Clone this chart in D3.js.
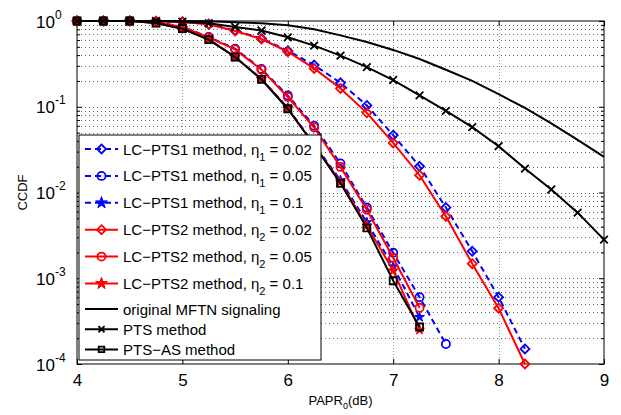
<!DOCTYPE html>
<html>
<head>
<meta charset="utf-8">
<script src="https://cdn.jsdelivr.net/npm/d3@7"></script>
<style>
  body { margin: 0; background: #fff; }
  svg { display: block; font-family: "Liberation Sans", Arial, sans-serif; }
</style>
</head>
<body>
<script>
// PAPR0 values (dB) for each curve length
var x_to_725 = [4, 4.25, 4.5, 4.75, 5, 5.25, 5.5, 5.75, 6, 6.25, 6.5, 6.75, 7, 7.25];
var x_to_75 = [4, 4.25, 4.5, 4.75, 5, 5.25, 5.5, 5.75, 6, 6.25, 6.5, 6.75, 7, 7.25, 7.5];
var x_to_825 = [4, 4.25, 4.5, 4.75, 5, 5.25, 5.5, 5.75, 6, 6.25, 6.5, 6.75, 7, 7.25, 7.5, 7.75, 8, 8.25];
var x_to_9 = [4, 4.25, 4.5, 4.75, 5, 5.25, 5.5, 5.75, 6, 6.25, 6.5, 6.75, 7, 7.25, 7.5, 7.75, 8, 8.25, 8.5, 8.75, 9];

// CCDF values
var lcpts1_002 = [1, 1, 1, 0.99, 0.98, 0.92, 0.775, 0.625, 0.45, 0.306, 0.19, 0.1035, 0.0466, 0.0202, 0.00667, 0.00206, 0.000602, 0.00015];
var lcpts1_005 = [1, 1, 1, 0.97, 0.855, 0.65, 0.475, 0.276, 0.135, 0.06, 0.0218, 0.00667, 0.00198, 0.000602, 0.000171];
var lcpts1_01 = [1, 1, 1, 0.95, 0.815, 0.61, 0.382, 0.211, 0.097, 0.0365, 0.0139, 0.00449, 0.00137, 0.000352];
var lcpts2_002 = [1, 1, 1, 0.99, 0.975, 0.915, 0.764, 0.616, 0.438, 0.28, 0.1636, 0.0849, 0.0379, 0.0159, 0.00527, 0.00148, 0.000448, 0.0001];
var lcpts2_005 = [1, 1, 1, 0.97, 0.85, 0.642, 0.467, 0.271, 0.13, 0.0573, 0.0199, 0.0063, 0.00173, 0.000452];
var lcpts2_01 = [1, 1, 1, 0.95, 0.813, 0.607, 0.38, 0.209, 0.095, 0.0358, 0.0132, 0.0041, 0.00123, 0.00025];
var original = [1, 1, 1, 1, 1, 0.99, 0.97, 0.94, 0.89, 0.8, 0.68, 0.57, 0.46, 0.36, 0.27, 0.2, 0.14, 0.097, 0.064, 0.041, 0.026];
var pts = [1, 1, 1, 1, 0.98, 0.94, 0.851, 0.774, 0.645, 0.516, 0.394, 0.29, 0.205, 0.1355, 0.0895, 0.0578, 0.0347, 0.019, 0.01084, 0.00582, 0.00282];
var pts_as = [1, 1, 1, 0.947, 0.813, 0.607, 0.38, 0.209, 0.0948, 0.0356, 0.0128, 0.00387, 0.000935, 0.00027];

var x_ticks = [4, 5, 6, 7, 8, 9];
var y_ticks = [1e-4, 1e-3, 1e-2, 1e-1, 1];
var y_exps = ["-4", "-3", "-2", "-1", "0"];

var legend_names = [
  ["LC\u2212PTS1 method, \u03b7", "1", " = 0.02"],
  ["LC\u2212PTS1 method, \u03b7", "1", " = 0.05"],
  ["LC\u2212PTS1 method, \u03b7", "1", " = 0.1"],
  ["LC\u2212PTS2 method, \u03b7", "2", " = 0.02"],
  ["LC\u2212PTS2 method, \u03b7", "2", " = 0.05"],
  ["LC\u2212PTS2 method, \u03b7", "2", " = 0.1"],
  ["original MFTN signaling", "", ""],
  ["PTS method", "", ""],
  ["PTS\u2212AS method", "", ""]
];

var blue = "#0000ff";
var red = "#ff0000";

var series = [
  {x: x_to_825, y: lcpts1_002, color: blue, dash: "6,4", marker: "diamond"},
  {x: x_to_75, y: lcpts1_005, color: blue, dash: "6,4", marker: "circle"},
  {x: x_to_725, y: lcpts1_01, color: blue, dash: "6,4", marker: "star"},
  {x: x_to_825, y: lcpts2_002, color: red, dash: null, marker: "diamond"},
  {x: x_to_725, y: lcpts2_005, color: red, dash: null, marker: "circle"},
  {x: x_to_725, y: lcpts2_01, color: red, dash: null, marker: "star"},
  {x: x_to_9, y: original, color: "#000", dash: null, marker: null},
  {x: x_to_9, y: pts, color: "#000", dash: null, marker: "x"},
  {x: x_to_725, y: pts_as, color: "#000", dash: null, marker: "square"}
];

var w = 621;
var h = 415;
var pl = 77, pr = 604, pt = 21, pb = 364;

var x_scale = d3.scaleLinear().domain([4, 9]).range([pl, pr]);
var y_scale = d3.scaleLog().domain([1e-4, 1]).range([pb, pt]);

var svg = d3.select("body")
  .append("svg")
  .attr("width", w)
  .attr("height", h);

svg.append("rect")
  .attr("width", w)
  .attr("height", h)
  .attr("fill", "#fff");

// minor log values
var minor = [];
for (var k = -4; k < 0; k++) {
  for (var m = 2; m <= 9; m++) {
    minor.push(m * Math.pow(10, k));
  }
}

// grid
var grid = svg.append("g");
grid.selectAll(".vgrid")
  .data(x_ticks.slice(1, -1))
  .enter()
  .append("line")
  .attr("x1", function(d) { return Math.round(x_scale(d)) + 0.5; })
  .attr("x2", function(d) { return Math.round(x_scale(d)) + 0.5; })
  .attr("y1", pt)
  .attr("y2", pb)
  .attr("stroke", "#999")
  .attr("stroke-dasharray", "1,2");

grid.selectAll(".hgrid")
  .data(minor.concat(y_ticks.slice(1, -1)))
  .enter()
  .append("line")
  .attr("x1", pl)
  .attr("x2", pr)
  .attr("y1", function(d) { return Math.round(y_scale(d)) + 0.5; })
  .attr("y2", function(d) { return Math.round(y_scale(d)) + 0.5; })
  .attr("stroke", "#666")
  .attr("stroke-dasharray", "1,3");

// axes with inward ticks
var x_axis = d3.axisBottom(x_scale)
  .tickValues(x_ticks)
  .tickSize(-5)
  .tickPadding(10)
  .tickFormat(d3.format("d"));
var gx = svg.append("g")
  .attr("transform", "translate(0," + pb + ")")
  .call(x_axis);
gx.selectAll("text").attr("font-size", 17).attr("fill", "#000");

svg.append("g")
  .attr("transform", "translate(0," + pt + ")")
  .call(d3.axisTop(x_scale).tickValues(x_ticks).tickSize(-5).tickFormat(""));

var gy = svg.append("g")
  .attr("transform", "translate(" + pl + ",0)")
  .call(d3.axisLeft(y_scale).tickValues(y_ticks).tickSize(-5).tickFormat(""));
svg.append("g")
  .attr("transform", "translate(" + pl + ",0)")
  .call(d3.axisLeft(y_scale).tickValues(minor).tickSize(-3).tickFormat(""));
svg.append("g")
  .attr("transform", "translate(" + pr + ",0)")
  .call(d3.axisRight(y_scale).tickValues(y_ticks).tickSize(-5).tickFormat(""));
svg.append("g")
  .attr("transform", "translate(" + pr + ",0)")
  .call(d3.axisRight(y_scale).tickValues(minor).tickSize(-3).tickFormat(""));

svg.selectAll(".domain").remove();
svg.selectAll("g").attr("font-family", null);
svg.selectAll(".tick line").attr("stroke", "#000");

// y tick labels as 10^k
gy.selectAll(".tick text").each(function(d, i) {
  var t = d3.select(this)
    .attr("x", 36 - pl)
    .attr("dy", null)
    .attr("y", 6)
    .attr("text-anchor", "start")
    .attr("fill", "#000");
  t.append("tspan").attr("font-size", 17).text("10");
  t.append("tspan").attr("font-size", 12).attr("dy", -9).text(y_exps[i]);
});

svg.append("rect")
  .attr("x", pl)
  .attr("y", pt)
  .attr("width", pr - pl)
  .attr("height", pb - pt)
  .attr("fill", "none")
  .attr("stroke", "#000");

// markers
var marker_path = function(type, s) {
  if (type === "diamond") {
    var r = 4.5 * s;
    return "M0," + (-r) + "L" + r + ",0L0," + r + "L" + (-r) + ",0Z";
  }
  if (type === "circle") {
    return d3.symbol(d3.symbolCircle, 52 * s * s)();
  }
  if (type === "star") {
    return d3.symbol(d3.symbolStar, 30 * s * s)();
  }
  if (type === "square") {
    var q = 3.5 * s;
    return "M" + (-q) + "," + (-q) + "H" + q + "V" + q + "H" + (-q) + "Z";
  }
  if (type === "x") {
    var e = 3.8 * s;
    return "M" + (-e) + "," + (-e) + "L" + e + "," + e + "M" + (-e) + "," + e + "L" + e + "," + (-e);
  }
  return "";
};

var line = d3.line()
  .x(function(d) { return x_scale(d[0]); })
  .y(function(d) { return y_scale(d[1]); });

var plot = svg.append("g");
series.forEach(function(s) {
  var pts_xy = s.x.map(function(v, i) { return [v, s.y[i]]; });
  plot.append("path")
    .datum(pts_xy)
    .attr("d", line)
    .attr("fill", "none")
    .attr("stroke", s.color)
    .attr("stroke-width", 2)
    .attr("stroke-dasharray", s.dash);
  if (s.marker) {
    plot.selectAll(null)
      .data(pts_xy)
      .enter()
      .append("path")
      .attr("transform", function(d) {
        return "translate(" + x_scale(d[0]) + "," + y_scale(d[1]) + ")";
      })
      .attr("d", marker_path(s.marker, 1))
      .attr("fill", s.marker === "star" ? s.color : "none")
      .attr("stroke", s.color)
      .attr("stroke-width", s.marker === "star" ? 1 : 1.8);
  }
});

// legend
var lg = svg.append("g");
lg.append("rect")
  .attr("x", 79)
  .attr("y", 135)
  .attr("width", 242)
  .attr("height", 225)
  .attr("fill", "#fff")
  .attr("stroke", "#000");

var row_y = function(i) {
  return i < 6 ? 149 + i * 26.9 : 309 + (i - 6) * 20.2;
};

series.forEach(function(s, i) {
  var yy = row_y(i);
  lg.append("line")
    .attr("x1", 85)
    .attr("x2", 118)
    .attr("y1", yy)
    .attr("y2", yy)
    .attr("stroke", s.color)
    .attr("stroke-width", 2)
    .attr("stroke-dasharray", s.dash);
  if (s.marker) {
    var sc = i < 6 ? 1 : 0.8;
    lg.append("path")
      .attr("transform", "translate(101.5," + yy + ")")
      .attr("d", marker_path(s.marker, s.marker === "star" ? 1.2 : sc))
      .attr("fill", s.marker === "star" ? s.color : "none")
      .attr("stroke", s.color)
      .attr("stroke-width", s.marker === "star" ? 1 : 1.8);
  }
  var t = lg.append("text")
    .attr("x", 123)
    .attr("y", yy + 5.5)
    .attr("font-size", 15)
    .attr("fill", "#000");
  t.append("tspan").text(legend_names[i][0]);
  if (legend_names[i][1]) {
    t.append("tspan").attr("font-size", 11).attr("dy", 6).text(legend_names[i][1]);
    t.append("tspan").attr("dy", -6).text(legend_names[i][2]);
  }
});

// axis titles
svg.append("text")
  .attr("transform", "translate(27," + ((pt + pb) / 2) + ") rotate(-90)")
  .attr("text-anchor", "middle")
  .attr("font-size", 13)
  .text("CCDF");

var xl = svg.append("text")
  .attr("x", (pl + pr) / 2)
  .attr("y", 405)
  .attr("text-anchor", "middle")
  .attr("font-size", 13);
xl.append("tspan").text("PAPR");
xl.append("tspan").attr("font-size", 9).attr("dy", 4).text("0");
xl.append("tspan").attr("dy", -4).text("(dB)");
</script>
</body>
</html>
